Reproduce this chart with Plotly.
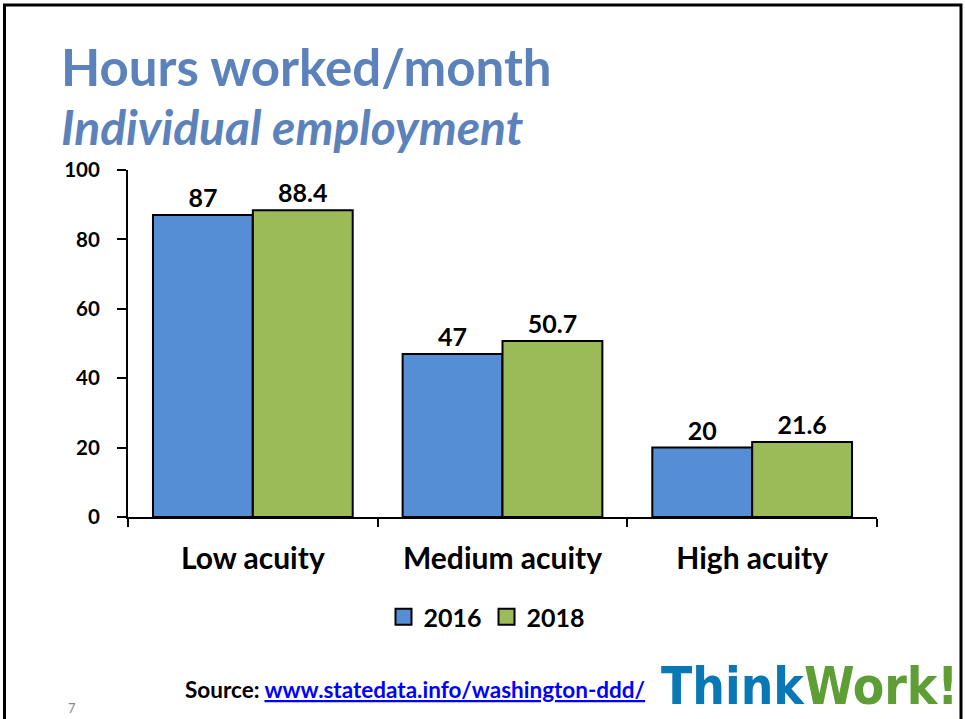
import plotly.graph_objects as go

categories = ["Low acuity", "Medium acuity", "High acuity"]
values_2016 = [87, 47, 20]
values_2018 = [88.4, 50.7, 21.6]
series_names = ["2016", "2018"]
y_ticks = [0, 20, 40, 60, 80, 100]

W, H = 965, 719
L, R, T, B = 128, 877, 170, 517  # plot area in pixels

def px(x):
    return (x - L) / (R - L)

def py(y):
    return 1 - (y - T) / (B - T)

FONT = "Lato"
BLUE = "#558ED5"
GREEN = "#9BBB59"
TITLE_C = "#5B82BA"
colors = [BLUE, GREEN]

fig = go.Figure()
for name, vals, col in zip(series_names, [values_2016, values_2018], colors):
    fig.add_trace(go.Bar(
        x=categories, y=vals, name=name, showlegend=False,
        marker=dict(color=col, line=dict(color="black", width=2)),
        texttemplate="%{y}", textposition="outside",
        textfont=dict(family=FONT, size=25, color="black", weight="bold"),
        cliponaxis=False,
    ))
# legend-only entries (square swatches)
for name, col in zip(series_names, colors):
    fig.add_trace(go.Scatter(
        x=[categories[0]], y=[None], name=name, mode="markers",
        marker=dict(symbol="square", size=16, color=col, line=dict(color="black", width=2)),
        hoverinfo="skip",
    ))

annotations = [
    dict(text="Hours worked/month", x=px(59), y=py(67), xanchor="left", yanchor="middle",
         font=dict(family=FONT, size=51, color=TITLE_C, weight="bold")),
    dict(text="<i>Individual employment</i>", x=px(59), y=py(126), xanchor="left", yanchor="middle",
         font=dict(family=FONT, size=48, color=TITLE_C, weight="bold")),
    dict(text="Source: <a href='http://www.statedata.info/washington-ddd/'><span style='color:#0000FF'><u>www.statedata.info/washington-ddd/</u></span></a>",
         x=px(415), y=py(689), xanchor="center", yanchor="middle",
         font=dict(family=FONT, size=22.5, color="black", weight="bold")),
    dict(text="7", x=px(72), y=py(708), xanchor="center", yanchor="middle",
         font=dict(family=FONT, size=13, color="#888888")),
    dict(text="<span style='color:#0A78B4'>Think</span><span style='color:#5E9E35'>Work!</span>",
         x=px(960), y=py(686), xanchor="right", yanchor="middle",
         font=dict(family="DejaVu Sans Condensed", size=51, weight="bold")),
]
for a in annotations:
    a.update(xref="paper", yref="paper", showarrow=False)

shapes = [
    dict(type="path", xref="paper", yref="paper",
         path=f"M {px(4.5)} {py(760)} L {px(4.5)} {py(5)} L {px(961)} {py(5)} L {px(961)} {py(760)}",
         line=dict(color="black", width=3)),
]

fig.update_layout(
    width=W, height=H,
    margin=dict(l=L, r=W - R, t=T, b=H - B, autoexpand=False),
    paper_bgcolor="white", plot_bgcolor="white",
    barmode="group", bargap=0.2, bargroupgap=0,
    font=dict(family=FONT, color="black"),
    showlegend=True,
    legend=dict(orientation="h", x=px(487), y=py(617), xanchor="center", yanchor="middle",
                font=dict(family=FONT, size=25, color="black", weight="bold"),
                traceorder="normal", itemwidth=30),
    annotations=annotations,
    shapes=shapes,
    xaxis=dict(showline=True, linecolor="black", linewidth=2, ticks="outside", ticklen=8,
               tickwidth=2, tickcolor="black", tickson="boundaries",
               tickfont=dict(family=FONT, size=30, color="black", weight="bold"),
               ticklabelstandoff=14, showgrid=False, zeroline=False),
    yaxis=dict(range=[0, 100], tickvals=y_ticks,
               showline=True, linecolor="black", linewidth=2, ticks="outside", ticklen=9,
               tickwidth=2, tickcolor="black", showgrid=False, zeroline=False,
               tickfont=dict(family=FONT, size=20.5, color="black", weight="bold"),
               ticklabelstandoff=13),
)
fig.write_html("out.html", config={"displayModeBar": False},
               post_script="document.body.style.margin='0';document.body.style.overflow='hidden';")
